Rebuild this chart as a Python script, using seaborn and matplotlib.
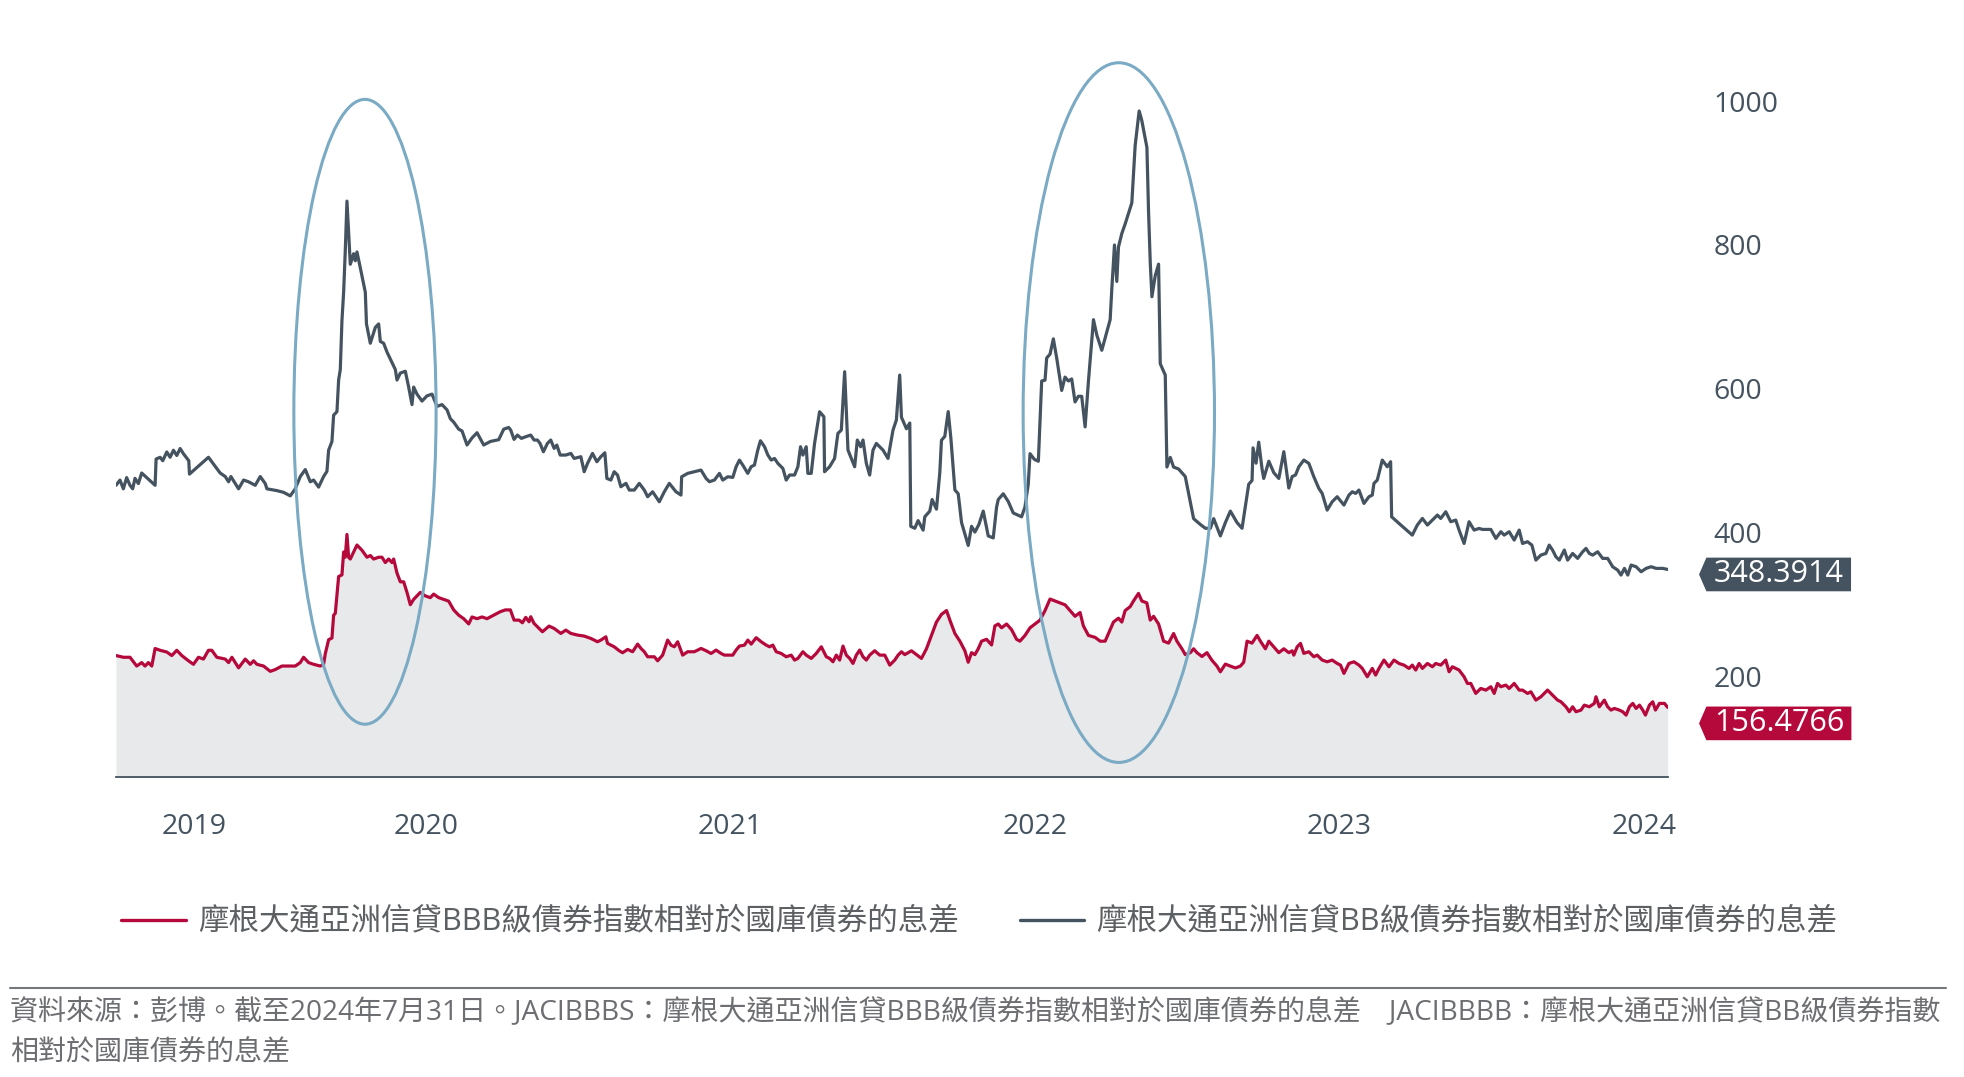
import pandas as pd
import matplotlib
matplotlib.use("Agg")
import matplotlib.pyplot as plt
import matplotlib.dates as mdates
import seaborn as sns
from matplotlib.patches import Ellipse
from matplotlib.path import Path
from matplotlib.lines import Line2D
from matplotlib.transforms import ScaledTranslation

# ---------------- data ----------------
START = "2019-06-27"   # first observation; day offsets below are relative to it

bb_days = [0, 4.8, 8.8, 12.8, 16.8, 20, 22.8, 26.8, 30.8, 46.9, 48.1, 52.9, 56.1, 60.9, 64.9, 68.9, 72.9, 76.9, 80.9, 84.1,
           87.3, 88.1, 110.9, 124.9, 131, 135, 137.8, 147, 153, 159, 167, 173, 179, 181, 193, 201, 209, 215, 221, 227,
           233, 237, 243, 249, 253, 255, 259, 261, 265, 267, 269, 271, 273, 275, 277, 279, 281, 285, 287, 289,
           293, 299, 300.4, 305, 311, 315, 317, 321, 325, 329, 335, 337, 341, 347, 351, 355, 357, 361, 367, 373,
           379, 385, 391, 397, 401, 405, 411, 415, 421, 427, 433, 441, 449, 459, 465, 471,
           473.4, 477.4, 481.4, 486.2, 491.4, 497.4, 501.4, 505.4, 508.6, 512.6, 517.4, 521.4, 525.5, 528.7, 532.7, 539.5,
           545.5, 549.5, 557.5, 561.5, 565.5, 571.5, 576.7, 581.5, 586.3, 588.7, 593.5, 597.5, 601.5, 605.5, 611.6, 615.6,
           621.6, 627.6, 633.6, 637.6, 643.6, 647.6, 651.6, 657.6, 663.6, 671.6, 677.6, 678.4, 685.6, 693.6, 701.6, 707.7,
           711.7, 717.7, 723.7, 727.7, 733.7, 739.7, 743.7, 747.7, 751.7, 757.7, 761.7, 765.7, 769.7, 772.9, 777.8, 781.8,
           785.8, 789.8, 793.8, 799.8, 803.8, 807.8, 813.8, 817.8, 821.0, 823.8, 827.8, 829.8, 833.8, 837.8, 843.8, 849.0,
           849.8, 855.8, 861.8, 865.8, 869.9, 873.9, 877.9, 881.1, 885.9, 889.1, 893.1, 895.9, 899.9, 903.9, 907.9, 911.9,
           919.9, 925.9, 931.9, 935.9, 939.9,
           942.0, 948.0, 952.0, 953.2, 958.0, 962.0, 968.0, 970.0, 976.0, 978.8, 984.0, 988.0, 990.0, 994.0, 998.1, 1001.3,
           1006.1, 1010.1, 1014.1, 1022.1, 1026.1, 1030.1, 1034.9, 1040.1, 1046.1, 1052.1, 1056.1, 1058.1, 1064.1, 1070.1,
           1076.1, 1086.1, 1090.1, 1094.1, 1096.2, 1101.4, 1106.2, 1110.2, 1114.2, 1116.2, 1120.2, 1124.2, 1128.2, 1134.2,
           1138.2, 1142.2, 1146.2, 1150.2, 1154.2, 1158.2, 1162.3, 1166.3, 1172.3, 1176.3, 1182.3, 1192.3, 1194.3, 1197.5,
           1200.3, 1202.3, 1206.3, 1210.3, 1218.3, 1222.3, 1227.1, 1230.3, 1236.4, 1238.4, 1240.4, 1242.4, 1246.4, 1250.4,
           1252.4, 1258.4, 1260.4, 1264.4, 1268.4, 1274.4, 1282.4, 1292.4, 1300.5, 1306.5, 1312.5, 1316.5, 1324.5, 1330.5,
           1336.5, 1344.5, 1350.5, 1358.5, 1362.5, 1363.7, 1367.3, 1370.5, 1374.5, 1376.5, 1382.6, 1388.6, 1394.6, 1400.6,
           1406.6, 1410.6,
           1414.6, 1418.6, 1424.6, 1430.6, 1436.6, 1442.6, 1446.6, 1452.6, 1458.6, 1464.6, 1472.7, 1478.7, 1482.7, 1486.7,
           1490.7, 1496.7, 1502.7, 1506.7, 1508.7, 1512.7, 1518.7, 1524.7, 1528.7, 1529.9, 1538.7, 1554.7, 1560.7, 1566.8,
           1572.8, 1578.8, 1584.8, 1588.8, 1594.8, 1600.8, 1606.8, 1610.8, 1616.8, 1622.8, 1628.8, 1634.8, 1638.8, 1648.9,
           1654.9, 1660.9, 1664.9, 1670.9, 1676.9, 1682.9, 1686.9, 1692.9, 1698.1, 1702.9, 1708.9, 1714.9, 1718.9, 1722.9,
           1726.9, 1731.0, 1737.0, 1741.0, 1747.0, 1753.0, 1759.0, 1763.0, 1767.0, 1771.0, 1777.0, 1783.0, 1789.0, 1795.0,
           1801.0, 1805.0, 1809.1, 1813.1, 1817.1, 1823.1, 1829.1, 1835.1, 1841.1, 1847.1, 1855.1, 1861.0]
bb_vals = [465.5, 472.8, 460.6, 476.2, 465.5, 460.6, 475.2, 467.9, 482.6, 465.5, 502.1, 504.5, 499.7, 511.9, 504.5, 514.3, 507.0, 516.7, 509.4, 504.5,
           499.7, 481.1, 504.5, 482.6, 477.7, 470.4, 477.7, 460.6, 472.8, 470.4, 465.5, 477.7, 467.9, 460.6, 458.1, 455.7, 450.8, 460.6, 477.7, 487.4,
           470.4, 472.8, 463.0, 477.7, 485.0, 514.3, 526.5, 563.1, 568.0, 612.0, 626.6, 695.0, 734.1, 792.7, 861.0, 817.1, 773.1, 787.8, 778.0, 790.2,
           768.2, 734.1, 690.1, 663.2, 685.2, 690.1, 665.7, 663.2, 651.0, 641.3, 626.6, 612.0, 621.7, 624.2, 602.2, 577.8, 602.2, 592.4, 582.7, 590.0,
           592.4, 575.3, 577.8, 570.5, 558.2, 553.4, 543.6, 541.2, 521.6, 531.4, 538.7, 521.6, 526.5, 529.0, 543.6, 546.0,
           542.4, 529.4, 535.4, 530.8, 533.1, 535.4, 528.5, 528.5, 523.8, 512.2, 523.8, 528.5, 516.9, 521.5, 507.6, 507.6,
           509.9, 502.9, 505.3, 484.4, 496.0, 509.9, 498.3, 505.3, 510.8, 475.1, 472.8, 484.4, 479.8, 463.5, 468.2, 458.9,
           458.9, 468.2, 458.9, 449.6, 456.5, 449.6, 442.6, 456.5, 468.2, 456.5, 451.9, 477.4, 482.1, 484.4, 486.7, 475.1,
           470.5, 472.8, 482.1, 472.8, 477.4, 476.5, 491.3, 500.6, 493.7, 482.1, 491.3, 493.7, 514.5, 527.5, 519.2, 507.6,
           500.6, 502.9, 496.0, 489.0, 472.8, 479.8, 479.8, 491.3, 519.2, 507.6, 519.2, 482.1, 482.1, 523.8, 567.9, 560.9,
           484.4, 491.3, 502.9, 537.7, 542.4, 623.6, 514.5, 505.3, 491.3, 528.5, 519.2, 528.5, 496.0, 479.8, 514.5, 523.8,
           514.5, 502.9, 542.4, 556.3, 618.9,
           560.2, 544.2, 552.2, 408.4, 405.7, 416.4, 403.1, 421.7, 429.6, 445.7, 432.3, 483.0, 528.2, 533.6, 568.1, 530.8,
           459.0, 453.7, 413.6, 381.8, 408.4, 400.4, 411.0, 429.6, 395.1, 392.3, 435.1, 445.7, 453.7, 443.0,
           427.0, 421.7, 435.1, 467.0, 509.5, 501.6, 499.0, 610.7, 611.8, 642.7, 648.0, 669.3, 642.7, 597.5,
           616.1, 610.7, 613.5, 581.5, 589.4, 589.4, 546.8, 610.7, 696.0, 674.7, 653.4, 696.0, 738.6, 799.9,
           749.2, 797.2, 815.9, 829.2, 858.5, 938.3, 986.4, 973.0, 935.7, 845.1, 775.9, 727.9, 757.3, 773.3,
           634.8, 618.8, 490.9, 504.3, 490.9, 488.2, 477.7, 419.1, 411.0, 405.7, 405.7, 419.1, 395.1, 413.6,
           429.6, 413.6, 405.7, 467.0, 472.2, 517.6, 496.3, 525.5, 488.2, 475.0, 499.0, 483.0, 475.0, 512.3,
           461.7, 477.7,
           479.8, 491.3, 500.6, 496.0, 477.4, 461.2, 454.2, 431.0, 442.6, 449.6, 438.0, 451.9, 456.5, 454.2,
           458.9, 440.3, 449.6, 451.9, 468.2, 472.8, 500.6, 491.3, 498.3, 421.7, 412.5, 396.2, 410.2, 419.4,
           410.2, 417.1, 424.1, 419.4, 428.7, 414.8, 417.1, 403.2, 384.6, 414.8, 403.2, 405.5, 404.1, 404.1,
           391.6, 400.9, 396.2, 400.9, 389.3, 403.2, 384.6, 387.0, 382.3, 361.4, 368.4, 370.7, 382.3, 375.4,
           366.1, 361.4, 375.4, 361.4, 370.7, 363.8, 373.0, 377.7, 370.7, 368.4, 373.0, 363.8, 363.8, 352.2,
           347.5, 340.6, 349.9, 340.6, 354.5, 352.2, 345.2, 349.9, 352.2, 349.9, 349.9, 348.3914]

bbb_days = [0, 8.8, 16.8, 24.8, 30.8, 34.8, 38.8, 42.9, 46.9, 52.9, 60.9, 66.9, 72.9, 78.9, 86.9, 92.9, 98.9, 104.9, 110.9, 114.9,
            120.9, 131, 135, 139, 147, 155, 161, 165, 169, 177, 185, 191, 199, 205, 215, 221, 225, 231, 237, 245,
            249, 251, 255, 259, 261, 263, 267, 271, 273, 275, 277, 279, 281, 285, 289, 295, 301, 305, 309, 315,
            319, 323, 327, 331, 333, 337, 341, 345, 349, 353, 357, 361, 365, 371, 377, 381, 387, 393, 399, 405,
            411, 417, 423, 427, 433, 439, 445, 453, 461, 467, 473,
            477.4, 483.4, 487.4, 491.4, 495.4, 497.4, 501.4, 511.4, 519.4, 525.5, 533.5, 539.5, 545.5, 553.5, 561.5, 569.5,
            577.5, 581.5, 587.5, 589.5, 597.5, 603.5, 607.6, 613.6, 619.6, 625.6, 629.6, 633.6, 637.6, 645.6, 649.6, 655.6,
            661.6, 665.6, 669.6, 673.6, 679.6, 685.6, 693.6, 701.7, 707.7, 713.7, 719.7, 725.7, 729.7, 739.7, 743.7, 747.7,
            753.7, 757.8, 761.8, 767.8, 773.8, 779.8, 783.8, 787.8, 791.8, 797.8, 803.8, 809.8, 813.8, 817.8, 823.8, 827.8,
            833.8, 839.8, 845.9, 851.9, 855.9, 859.9, 863.9, 867.9, 871.9, 875.9, 879.9, 883.9, 887.9, 891.9, 895.9, 899.9,
            903.9, 909.9, 915.9, 922.0, 928.0, 934.0, 938.0, 942.0,
            946.0, 954.0, 960.0, 966.0, 972.0, 978.0, 984.0, 990.0, 996.1, 1000.1, 1006.1, 1012.1, 1018.1, 1022.1, 1026.1, 1030.1,
            1034.1, 1038.1, 1044.1, 1050.1, 1054.1, 1058.1, 1062.1, 1068.1, 1074.1, 1080.1, 1084.1, 1090.2, 1096.2, 1102.2, 1108.2,
            1114.2, 1120.2, 1126.2, 1132.2, 1138.2, 1144.2, 1150.2, 1156.2, 1160.2, 1166.3, 1174.3, 1180.3, 1186.3, 1192.3, 1196.3,
            1202.3, 1206.3, 1210.3, 1216.3, 1220.3, 1226.3, 1230.3, 1236.3, 1240.4, 1244.4, 1250.4, 1256.4, 1262.4, 1268.4, 1272.4,
            1278.4, 1282.4, 1288.4, 1292.4, 1296.4, 1302.4, 1308.4, 1314.4, 1320.4, 1324.5, 1330.5, 1336.5, 1342.5, 1348.5, 1352.5,
            1356.5, 1362.5, 1368.5, 1372.5, 1378.5, 1382.6, 1388.6, 1394.6, 1400.6, 1406.6, 1410.6,
            1412.6, 1416.6, 1420.6, 1424.6, 1430.6, 1436.6, 1440.6, 1446.6, 1452.6, 1458.6, 1464.6, 1468.6, 1472.7, 1478.7,
            1484.7, 1490.7, 1494.7, 1500.7, 1506.7, 1510.7, 1514.7, 1520.7, 1526.7, 1532.7, 1538.7, 1544.7, 1550.7, 1554.7,
            1558.8, 1562.8, 1566.8, 1572.8, 1578.8, 1582.8, 1588.8, 1594.8, 1598.8, 1602.8, 1606.8, 1610.8, 1616.8, 1620.8,
            1624.8, 1628.8, 1630.8, 1636.8, 1642.9, 1648.9, 1652.9, 1656.9, 1660.9, 1666.9, 1670.9, 1676.9, 1682.9, 1686.9,
            1692.9, 1696.9, 1702.9, 1708.9, 1716.9, 1722.9, 1728.9, 1732.9, 1739.0, 1743.0, 1747.0, 1751.0, 1757.0, 1761.0,
            1767.0, 1773.0, 1775.0, 1779.0, 1785.0, 1789.0, 1793.0, 1797.0, 1803.0, 1807.1, 1811.1, 1815.1, 1819.1, 1823.1,
            1827.1, 1831.1, 1834.3, 1839.1, 1843.1, 1846.3, 1851.1, 1857.1, 1861.0]
bbb_vals = [228.6, 226.2, 226.2, 214.0, 218.8, 214.0, 218.8, 214.0, 238.4, 235.9, 233.5, 228.6, 235.9, 228.6, 221.3, 216.4, 226.2, 223.7, 235.9, 235.9,
            226.2, 223.7, 218.8, 226.2, 211.5, 223.7, 216.4, 221.3, 216.4, 214.0, 206.6, 209.1, 214.0, 214.0, 214.0, 218.8, 226.2, 218.8, 216.4, 214.0,
            216.4, 231.1, 250.6, 253.0, 284.8, 287.2, 338.5, 340.9, 372.7, 365.4, 397.1, 365.4, 362.9, 372.7, 382.4, 375.1, 365.4, 367.8, 362.9, 365.4,
            365.4, 358.0, 362.9, 358.0, 362.9, 343.4, 331.2, 331.2, 316.5, 299.4, 306.8, 311.6, 316.5, 311.6, 309.2, 314.1, 309.2, 306.8, 304.3, 292.1,
            284.8, 279.9, 272.6, 282.3, 279.9, 282.3, 279.9, 284.8, 289.7, 292.1, 292.1,
            277.9, 277.9, 274.2, 281.7, 275.6, 282.6, 273.3, 261.7, 269.6, 266.3, 259.4, 264.0, 259.4, 257.1, 255.7, 252.4,
            247.8, 250.1, 254.7, 245.5, 240.8, 235.3, 232.5, 237.1, 233.9, 244.5, 238.5, 233.9, 226.9, 226.9, 221.3, 229.2,
            250.1, 243.1, 240.8, 247.8, 229.2, 233.9, 233.9, 238.5, 235.3, 231.5, 236.2, 231.5, 229.2, 229.2, 236.2, 241.8,
            243.1, 250.1, 244.5, 253.4, 247.8, 243.1, 240.8, 243.1, 233.9, 231.5, 226.9, 229.2, 222.3, 224.6, 233.9, 229.2,
            224.6, 231.5, 240.8, 226.9, 224.6, 219.9, 229.2, 222.3, 241.8, 229.2, 224.6, 217.6, 229.2, 236.2, 226.9, 222.3,
            229.2, 235.3, 229.2, 229.2, 215.3, 222.3, 229.2, 233.9,
            229.9, 235.2, 229.9, 224.6, 238.0, 256.6, 275.2, 285.9, 291.2, 277.9, 259.3, 248.6, 235.2, 219.3, 232.6, 229.9,
            238.0, 248.6, 251.2, 243.3, 269.9, 272.5, 267.2, 272.5, 264.6, 251.2, 248.6, 256.6, 267.2, 272.5, 277.9,
            291.2, 307.2, 304.5, 301.9, 299.2, 291.2, 283.2, 288.5, 269.9, 256.6, 253.9, 248.6, 248.6, 264.6, 275.2,
            280.6, 275.2, 291.2, 296.6, 304.5, 315.1, 304.5, 301.9, 277.9, 283.2, 272.5, 248.6, 245.9, 259.3, 248.6,
            238.0, 229.9, 232.6, 238.0, 232.6, 227.3, 232.6, 222.0, 213.9, 206.0, 216.7, 213.9, 211.3, 213.9, 219.3,
            248.6, 245.9, 256.6, 248.6, 238.0, 248.6, 240.6, 232.6, 238.0, 232.6, 235.2,
            229.2, 240.7, 245.5, 231.6, 233.9, 226.9, 229.2, 222.3, 219.9, 222.3, 217.6, 215.3, 203.7, 217.6,
            219.9, 215.3, 210.7, 199.1, 210.7, 201.4, 210.7, 222.3, 213.0, 222.3, 217.6, 215.3, 210.7, 215.3,
            208.4, 217.6, 210.7, 217.6, 213.0, 217.6, 215.3, 222.3, 206.0, 213.0, 210.7, 208.4, 199.1, 189.8,
            189.8, 180.5, 175.9, 182.8, 180.5, 185.2, 175.9, 189.8, 185.2, 187.5, 182.8, 189.8, 180.5, 180.5,
            175.9, 178.2, 166.6, 171.2, 180.5, 173.6, 166.6, 164.3, 157.3, 150.4, 157.3, 150.4, 152.7, 159.6,
            157.3, 162.0, 171.2, 157.3, 166.6, 157.3, 152.7, 155.0, 152.7, 150.4, 145.7, 157.3, 162.0, 155.0,
            159.6, 152.7, 145.7, 159.6, 164.3, 152.7, 162.0, 162.0, 156.4766]

year_ticks = ["2019-07-03", "2020-07-03", "2021-07-03", "2022-07-03", "2023-07-03", "2024-07-03"]
year_labels = ["2019", "2020", "2021", "2022", "2023", "2024"]
y_ticks = [200, 400, 600, 800, 1000]

bbb_name = "摩根大通亞洲信貸BBB級債券指數相對於國庫債券的息差"
bb_name = "摩根大通亞洲信貸BB級債券指數相對於國庫債券的息差"
source_lines = ["資料來源：彭博。截至2024年7月31日。JACIBBBS：摩根大通亞洲信貸BBB級債券指數相對於國庫債券的息差　JACIBBBB：摩根大通亞洲信貸BB級債券指數",
                "相對於國庫債券的息差"]

# highlighted episodes: (centre day, centre value, width in days, height in bps)
highlights = [(298.6, 567.8, 170.6, 869.5), (1202.7, 566.7, 229.5, 973.7)]

# ---------------- style ----------------
RED = "#b5093c"
SLATE = "#44535f"
FILL = "#e8e9eb"
RING = "#7aaac4"
GREY_TXT = "#5d6063"

sns.set_theme(style="white")
plt.rcParams["font.family"] = ["Open Sans", "Noto Sans CJK TC", "DejaVu Sans"]

W, H = 1965, 1077
fig = plt.figure(figsize=(W / 100, H / 100), dpi=100)
ax = fig.add_axes([116 / W, 1 - 776.7 / H, (1667.7 - 116) / W, (776.7 - 58.1) / H])

start = pd.Timestamp(START)
bb = pd.DataFrame({"date": start + pd.to_timedelta(bb_days, unit="D"), "spread": bb_vals})
bbb = pd.DataFrame({"date": start + pd.to_timedelta(bbb_days, unit="D"), "spread": bbb_vals})

ax.fill_between(bbb["date"], bbb["spread"], 0, color=FILL, lw=0, zorder=1)
sns.lineplot(data=bbb, x="date", y="spread", color=RED, lw=2.3, ax=ax,
             estimator=None, sort=False, zorder=3)
sns.lineplot(data=bb, x="date", y="spread", color=SLATE, lw=2.3, ax=ax,
             estimator=None, sort=False, zorder=3)

for cd, cv, wd, hv in highlights:
    cx = mdates.date2num(start + pd.Timedelta(days=cd))
    ax.add_patch(Ellipse((cx, cv), wd, hv, fill=False, ec=RING, lw=2.2,
                         zorder=5, clip_on=False))

ax.set_xlim(bb["date"].iloc[0], bb["date"].iloc[-1])
ax.set_ylim(60, 1060)
ax.set_xlabel("")
ax.set_ylabel("")
ax.grid(False)

for s in ["left", "top", "right"]:
    ax.spines[s].set_visible(False)
ax.spines["bottom"].set_color(SLATE)
ax.spines["bottom"].set_linewidth(1.3)

ax.yaxis.tick_right()
ax.set_yticks(y_ticks)
ax.set_yticklabels([str(v) for v in y_ticks])
ax.tick_params(axis="y", length=0, pad=33, labelsize=20.5, labelcolor=SLATE)

ax.set_xticks(pd.to_datetime(year_ticks))
ax.set_xticklabels(year_labels)
ax.tick_params(axis="x", length=0, pad=26, labelsize=20.5, labelcolor=SLATE)
first = ax.get_xticklabels()[0]
first.set_transform(first.get_transform() + ScaledTranslation(0.73, 0, fig.dpi_scale_trans))


def tag_box(x0, y0, width, height, mutation_size):
    padx = 0.24 * mutation_size
    pady = 0.06 * mutation_size
    notch = 0.24 * mutation_size
    l, r = x0 - padx, x0 + width + padx
    b, t = y0 - pady, y0 + height + pady
    verts = [(l, b), (r, b), (r, t), (l, t), (l - notch, (b + t) / 2), (l, b)]
    return Path(verts, closed=True)


for df, col, dy in [(bb, SLATE, -5), (bbb, RED, -16)]:
    last_date = df["date"].iloc[-1]
    last_val = df["spread"].iloc[-1]
    ax.annotate(f"{last_val:.4f}", xy=(last_date, last_val), xytext=(46, dy),
                textcoords="offset pixels", ha="left", va="center", color="white",
                fontsize=22, annotation_clip=False, zorder=6,
                bbox=dict(boxstyle=tag_box, fc=col, ec="none"))

handles = [Line2D([], [], color=RED, lw=2.4), Line2D([], [], color=SLATE, lw=2.4)]
leg = fig.legend(handles, [bbb_name, bb_name], loc="center left",
                 bbox_to_anchor=(121.5 / W, 1 - 922.5 / H), ncol=2, frameon=False,
                 fontsize=22.0, handlelength=2.1, handletextpad=0.4, columnspacing=2.0,
                 borderpad=0, borderaxespad=0)
for t in leg.get_texts():
    t.set_color(GREY_TXT)

fig.add_artist(Line2D([10 / W, 1946 / W], [1 - 988.3 / H] * 2, color="#75787b",
                      lw=1.5, transform=fig.transFigure))
fig.text(10 / W, 1 - 1013 / H, source_lines[0], ha="left", va="center",
         fontsize=20.2, color="#6d6e71")
fig.text(10 / W, 1 - 1053 / H, source_lines[1], ha="left", va="center",
         fontsize=20.2, color="#6d6e71")

fig.savefig("out.png", dpi=100)
